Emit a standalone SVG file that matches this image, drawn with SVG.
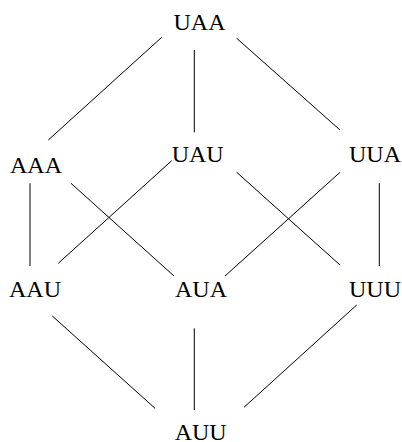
<svg xmlns="http://www.w3.org/2000/svg" width="402" height="442" viewBox="0 0 402 442">
<style>
text{font-family:"Liberation Serif","Times New Roman",serif;font-size:24px;fill:#000;text-anchor:middle}
line{stroke:#000;stroke-width:1}
</style>
<rect width="402" height="442" fill="#fff"/>
<g id="connectors">
<line x1="161.7" y1="37.3" x2="48.3" y2="140"/>
<line x1="194.3" y1="50" x2="194.3" y2="132.3"/>
<line x1="236.7" y1="38.3" x2="340" y2="130"/>
<line x1="30" y1="183.3" x2="30" y2="266"/>
<line x1="71" y1="183.3" x2="174" y2="276"/>
<line x1="171.7" y1="160.7" x2="58.3" y2="263.3"/>
<line x1="236.7" y1="172.3" x2="340" y2="265"/>
<line x1="340" y1="172.3" x2="225" y2="276"/>
<line x1="379.3" y1="183.3" x2="379.3" y2="266"/>
<line x1="52.3" y1="316" x2="155" y2="408.3"/>
<line x1="194.3" y1="328.3" x2="194.3" y2="410"/>
<line x1="356.7" y1="305" x2="244" y2="407.3"/>
</g>
<g id="UAA"><text x="199.5" y="29.5">UAA</text></g>
<g id="AAA"><text x="36" y="173">AAA</text></g>
<g id="UAU"><text x="197.7" y="161.5">UAU</text></g>
<g id="UUA"><text x="375" y="161.5">UUA</text></g>
<g id="AAU"><text x="35" y="296.5">AAU</text></g>
<g id="AUA"><text x="201" y="296.5">AUA</text></g>
<g id="UUU"><text x="375" y="296.5">UUU</text></g>
<g id="AUU"><text x="200.7" y="439.5">AUU</text></g>
</svg>
